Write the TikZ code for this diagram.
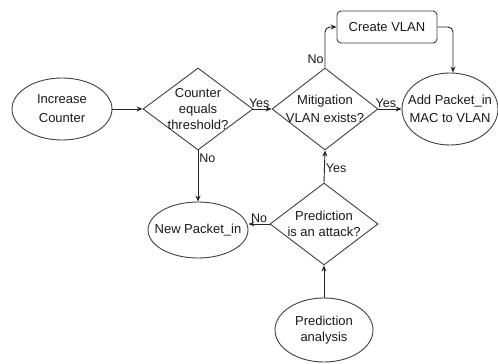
\documentclass[tikz,border=0pt]{standalone}
\usepackage{fontspec}
\setmainfont{Liberation Sans}
\usetikzlibrary{shapes.geometric,arrows.meta,calc}

\begin{document}
\begin{tikzpicture}[x=1pt,y=-1pt,
  every node/.style={font=\fontsize{13}{16}\selectfont, text=black!90},
  shp/.style={draw=black!75, line width=0.9pt, inner sep=0pt},
  oval/.style={shp, ellipse},
  choice/.style={shp, diamond},
  proc/.style={shp, rectangle, rounded corners=4pt},
  lbl/.style={align=center, inner sep=0pt},
  flow/.style={draw=black!85, line width=0.9pt, -{Stealth[length=6pt,width=5pt]}},
  tag/.style={inner sep=1pt, font=\fontsize{12.5}{15}\selectfont}
]
\useasboundingbox (0,0) rectangle (498,364);

% shapes
\node[oval, minimum width=100pt, minimum height=62pt] (inc) at (62,109) {};
\node[lbl, font=\fontsize{13}{19}\selectfont] at (inc) {Increase\\Counter};

\node[choice, minimum width=110pt, minimum height=82pt] (cnt) at (198,109) {};
\node[lbl] at (cnt) {Counter\\equals\\threshold?};

\node[choice, minimum width=106pt, minimum height=82pt] (mit) at (325,109) {};
\node[lbl, font=\fontsize{13}{18}\selectfont] at (mit) {Mitigation\\VLAN exists?};

\node[proc, minimum width=100pt, minimum height=32pt] (vlan) at (387,27) {};
\node[lbl] at (vlan) {Create VLAN};

\node[oval, minimum width=96pt, minimum height=72pt] (add) at (450,109) {};
\node[lbl, font=\fontsize{13}{18}\selectfont] at (add) {Add Packet\_in\\MAC to VLAN};

\node[oval, minimum width=100pt, minimum height=56pt] (newp) at (198,230) {};
\node[lbl] at (newp) {New Packet\_in};

\node[choice, minimum width=108pt, minimum height=82pt] (pred) at (324,224) {};
\node[lbl] at (pred) {Prediction\\is an attack?};

\node[oval, minimum width=98pt, minimum height=64pt] (ana) at (324,330) {};
\node[lbl] at (ana) {Prediction\\analysis};

% connectors
\draw[flow] (inc.east) -- (cnt.west);
\draw[flow] (cnt.east) -- node[pos=0.32, above, tag] {Yes} (mit.west);
\draw[flow] (mit.east) -- node[pos=0.32, above, tag] {Yes} (add.west);
\draw[flow, rounded corners=5pt] (mit.north) |- node[pos=0.1, left, tag] {No} (vlan.west);
\draw[flow, rounded corners=5pt] (vlan.east) -| ($(add.north)+(3,0)$);
\draw[flow] (cnt.south) -- node[pos=0.15, right, tag] {No} (newp.north);
\draw[flow] (pred.west) -- node[pos=0.5, above, tag] {No} (newp.east |- pred.west);
\draw[flow] (ana.north) -- (pred.south);
\draw[flow] (pred.north) -- node[pos=0.45, right, tag] {Yes} (mit.south);
\end{tikzpicture}
\end{document}
